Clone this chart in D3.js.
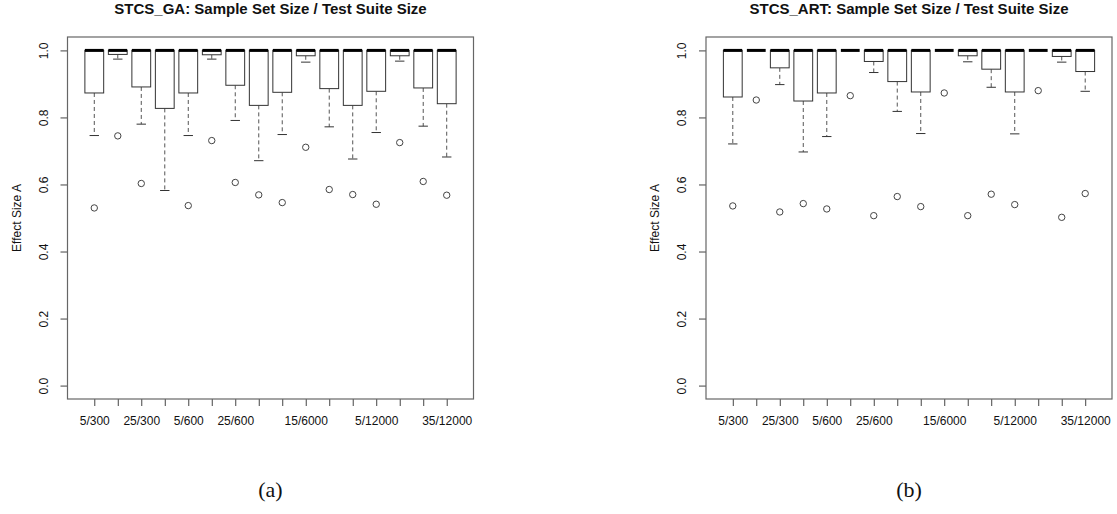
<!DOCTYPE html>
<html>
<head>
<meta charset="utf-8">
<script src="https://cdn.jsdelivr.net/npm/d3@7"></script>
<style>
  body { margin: 0; background: #fff; }
  text { font-family: "Liberation Sans", Arial, sans-serif; fill: #111; }
</style>
</head>
<body>
<div id="chart"></div>
<script>
// categories: sample set size / test suite size
var categories = ["5/300", "15/300", "25/300", "35/300", "5/600", "15/600", "25/600", "35/600",
                  "5/6000", "15/6000", "25/6000", "35/6000", "5/12000", "15/12000", "25/12000", "35/12000"];
// R drops the labels that would overlap, only these get printed
var shownLabels = ["5/300", "25/300", "5/600", "25/600", "15/6000", "5/12000", "35/12000"];
var yTicks = [0.0, 0.2, 0.4, 0.6, 0.8, 1.0];

// (a) STCS_GA
var gaMedian = [1, 1, 1, 1, 1, 1, 1, 1, 1, 1, 1, 1, 1, 1, 1, 1];
var gaQ3     = [1, 1, 1, 1, 1, 1, 1, 1, 1, 1, 1, 1, 1, 1, 1, 1];
var gaQ1     = [0.873, 0.988, 0.891, 0.827, 0.873, 0.987, 0.896, 0.836, 0.875, 0.984, 0.886, 0.836, 0.878, 0.984, 0.888, 0.841];
var gaLowW   = [0.746, 0.974, 0.780, 0.582, 0.746, 0.974, 0.791, 0.671, 0.749, 0.965, 0.772, 0.676, 0.755, 0.968, 0.774, 0.682];
var gaOut    = [[0.530], [0.745], [0.603], [], [0.537], [0.731], [0.606], [0.569], [0.546], [0.711], [0.585], [0.570], [0.541], [0.725], [0.609], [0.568]];

// (b) STCS_ART
var artMedian = [1, 1, 1, 1, 1, 1, 1, 1, 1, 1, 1, 1, 1, 1, 1, 1];
var artQ3     = [1, 1, 1, 1, 1, 1, 1, 1, 1, 1, 1, 1, 1, 1, 1, 1];
var artQ1     = [0.861, 1.0, 0.948, 0.849, 0.873, 1.0, 0.967, 0.907, 0.876, 1.0, 0.984, 0.944, 0.876, 1.0, 0.982, 0.937];
var artLowW   = [0.721, 1.0, 0.898, 0.697, 0.743, 1.0, 0.934, 0.818, 0.752, 1.0, 0.966, 0.890, 0.751, 1.0, 0.965, 0.878];
var artOut    = [[0.536], [0.852], [0.518], [0.543], [0.527], [0.865], [0.507], [0.564], [0.534], [0.873], [0.507], [0.571], [0.540], [0.880], [0.502], [0.573]];

var W = 1117, H = 514;
var plotW = 406, plotTop = 37, plotH = 362;

var svg = d3.select("#chart").append("svg")
  .attr("width", W)
  .attr("height", H);

// R pads the ranges by 4%
var x = d3.scaleLinear().domain([0.5 - 0.64, categories.length + 0.5 + 0.64]).range([0, plotW]);
var y = d3.scaleLinear().domain([-0.04, 1.04]).range([plotH, 0]);

function boxplot(left, title, caption, med, q3, q1, lowW, outs) {
  var g = svg.append("g").attr("transform", "translate(" + left + "," + plotTop + ")");
  var step = x(2) - x(1);
  var bw = step * 0.8;
  var cap = bw * 0.5;

  var rows = categories.map(function(c, i) {
    return { i: i + 1, med: med[i], q3: q3[i], q1: q1[i], lo: lowW[i], hi: q3[i], outs: outs[i] };
  });

  var box = g.selectAll(".box").data(rows).enter().append("g").attr("class", "box");

  // lower whisker
  box.filter(function(d) { return d.lo < d.q1; })
    .append("line")
    .attr("x1", function(d) { return x(d.i); })
    .attr("x2", function(d) { return x(d.i); })
    .attr("y1", function(d) { return y(d.q1); })
    .attr("y2", function(d) { return y(d.lo); })
    .attr("stroke", "#555")
    .attr("stroke-dasharray", "4,3");

  box.filter(function(d) { return d.lo < d.q1; })
    .append("line")
    .attr("x1", function(d) { return x(d.i) - cap / 2; })
    .attr("x2", function(d) { return x(d.i) + cap / 2; })
    .attr("y1", function(d) { return y(d.lo); })
    .attr("y2", function(d) { return y(d.lo); })
    .attr("stroke", "#333");

  box.filter(function(d) { return d.q1 < d.q3; })
    .append("rect")
    .attr("x", function(d) { return x(d.i) - bw / 2; })
    .attr("width", bw)
    .attr("y", function(d) { return y(d.q3); })
    .attr("height", function(d) { return y(d.q1) - y(d.q3); })
    .attr("fill", "#fff")
    .attr("stroke", "#333");

  box.append("line")
    .attr("x1", function(d) { return x(d.i) - bw / 2; })
    .attr("x2", function(d) { return x(d.i) + bw / 2; })
    .attr("y1", function(d) { return y(d.med); })
    .attr("y2", function(d) { return y(d.med); })
    .attr("stroke", "#000")
    .attr("stroke-width", 3);

  box.selectAll("circle")
    .data(function(d) { return d.outs.map(function(v) { return { i: d.i, v: v }; }); })
    .enter().append("circle")
    .attr("cx", function(d) { return x(d.i); })
    .attr("cy", function(d) { return y(d.v); })
    .attr("r", 3.2)
    .attr("fill", "none")
    .attr("stroke", "#444");

  // axes
  var yAxis = d3.axisLeft(y).tickValues(yTicks).tickSize(7).tickFormat(d3.format(".1f"));
  var ya = g.append("g").call(yAxis);
  ya.select(".domain").remove();
  ya.selectAll("line").attr("stroke", "#444");
  ya.selectAll("text")
    .attr("transform", "rotate(-90)")
    .attr("x", 0).attr("y", -20).attr("dy", 0)
    .attr("text-anchor", "middle")
    .style("font-size", "12px");

  var xAxis = d3.axisBottom(x).tickValues(d3.range(1, categories.length + 1)).tickSize(7)
    .tickFormat(function(d) {
      var c = categories[d - 1];
      return shownLabels.indexOf(c) >= 0 ? c : "";
    });
  var xa = g.append("g").attr("transform", "translate(0," + plotH + ")").call(xAxis);
  xa.select(".domain").remove();
  xa.selectAll("line").attr("stroke", "#444");
  xa.selectAll("text").attr("y", 26).attr("dy", 0).style("font-size", "12px");

  g.append("rect")
    .attr("width", plotW).attr("height", plotH)
    .attr("fill", "none").attr("stroke", "#666").attr("stroke-width", 1.2);

  g.append("text")
    .attr("transform", "translate(-47," + (plotH / 2) + ") rotate(-90)")
    .attr("text-anchor", "middle")
    .style("font-size", "12px")
    .text("Effect Size A");

  g.append("text")
    .attr("x", plotW / 2).attr("y", 13.5 - plotTop)
    .attr("text-anchor", "middle")
    .style("font-size", "15px").style("font-weight", "bold")
    .text(title);

  g.append("text")
    .attr("x", plotW / 2).attr("y", 497 - plotTop)
    .attr("text-anchor", "middle")
    .style("font-family", "'Liberation Serif', 'Times New Roman', serif")
    .style("font-size", "22px")
    .text(caption);
}

boxplot(67.5, "STCS_GA: Sample Set Size / Test Suite Size", "(a)", gaMedian, gaQ3, gaQ1, gaLowW, gaOut);
boxplot(706, "STCS_ART: Sample Set Size / Test Suite Size", "(b)", artMedian, artQ3, artQ1, artLowW, artOut);
</script>
</body>
</html>
